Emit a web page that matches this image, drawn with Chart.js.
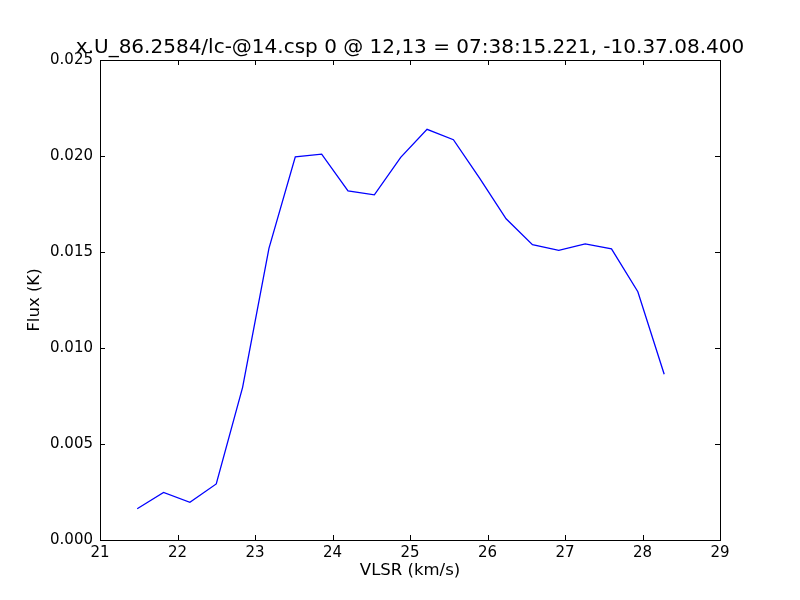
<!DOCTYPE html>
<html>
<head>
<meta charset="utf-8">
<script src="https://cdn.jsdelivr.net/npm/chart.js@4/dist/chart.umd.min.js"></script>
<style>
html,body{margin:0;padding:0;background:#fff;}
#wrap{width:800px;height:600px;}
</style>
</head>
<body>
<div id="wrap"><canvas id="c" width="800" height="600"></canvas></div>
<script>
const titleText = "x.U_86.2584/lc-@14.csp 0 @ 12,13 = 07:38:15.221, -10.37.08.400";
const xLabel = "VLSR (km/s)";
const yLabel = "Flux (K)";
const velocity = [21.48, 21.82, 22.16, 22.50, 22.84, 23.18, 23.52, 23.86, 24.20, 24.54, 24.88, 25.22, 25.56, 25.90, 26.24, 26.58, 26.92, 27.26, 27.60, 27.94, 28.28];
const flux = [0.00163, 0.00248, 0.00196, 0.00292, 0.00795, 0.01519, 0.01996, 0.02010, 0.01818, 0.01798, 0.01993, 0.02139, 0.02085, 0.01884, 0.01673, 0.01538, 0.01509, 0.01542, 0.01516, 0.01293, 0.00863];
const xTicks = [21, 22, 23, 24, 25, 26, 27, 28, 29];
const yTicks = [0.000, 0.005, 0.010, 0.015, 0.020, 0.025];

const FONT = "'DejaVu Sans', sans-serif";

const framePlugin = {
  id: 'frame',
  afterDraw(chart) {
    const {ctx, chartArea: a, scales} = chart;
    ctx.save();
    ctx.strokeStyle = '#000';
    ctx.lineWidth = 1;
    const L = 5;
    ctx.beginPath();
    xTicks.forEach(v => {
      const px = Math.round(scales.x.getPixelForValue(v)) + 0.5;
      ctx.moveTo(px, a.bottom); ctx.lineTo(px, a.bottom - L);
      ctx.moveTo(px, a.top); ctx.lineTo(px, a.top + L);
    });
    yTicks.forEach(v => {
      const py = Math.round(scales.y.getPixelForValue(v)) + 0.5;
      ctx.moveTo(a.left, py); ctx.lineTo(a.left + L, py);
      ctx.moveTo(a.right, py); ctx.lineTo(a.right - L, py);
    });
    ctx.stroke();
    ctx.strokeRect(Math.round(a.left) + 0.5, Math.round(a.top) + 0.5, Math.round(a.right - a.left), Math.round(a.bottom - a.top));
    // title centred over the plot area
    ctx.fillStyle = '#000';
    ctx.font = "20px " + FONT;
    ctx.textAlign = 'center';
    ctx.textBaseline = 'alphabetic';
    ctx.fillText(titleText, (a.left + a.right) / 2, a.top - 7);
    ctx.restore();
  }
};

new Chart(document.getElementById('c'), {
  type: 'line',
  data: {
    datasets: [{
      data: velocity.map((v, i) => ({x: v, y: flux[i]})),
      borderColor: '#0000ff',
      borderWidth: 1.3,
      pointRadius: 0,
      fill: false,
      tension: 0
    }]
  },
  options: {
    responsive: false,
    animation: false,
    devicePixelRatio: 1,
    layout: {padding: {left: 0, right: 80, top: 60, bottom: 0}},
    plugins: {
      legend: {display: false},
      tooltip: {enabled: false},
      title: {display: false}
    },
    scales: {
      x: {
        type: 'linear',
        min: 21, max: 29,
        afterFit(s) { s.height = 60; },
        afterBuildTicks(s) { s.ticks = xTicks.map(v => ({value: v})); },
        grid: {display: false, drawTicks: false},
        border: {display: false},
        ticks: {color: '#000', font: {family: FONT, size: 15}, padding: 4, maxRotation: 0,
          callback: v => String(v)},
        title: {display: true, text: xLabel, color: '#000', font: {family: FONT, size: 16.5}, padding: {top: 0, bottom: 19}}
      },
      y: {
        type: 'linear',
        min: 0, max: 0.025,
        afterFit(s) { s.width = 100; },
        afterBuildTicks(s) { s.ticks = yTicks.map(v => ({value: v})); },
        grid: {display: false, drawTicks: false},
        border: {display: false},
        ticks: {color: '#000', font: {family: FONT, size: 15}, padding: 7,
          callback: v => Number(v).toFixed(3)},
        title: {display: true, text: yLabel, color: '#000', font: {family: FONT, size: 16.5}, padding: {top: 25, bottom: 0}}
      }
    }
  },
  plugins: [framePlugin]
});
</script>
</body>
</html>
